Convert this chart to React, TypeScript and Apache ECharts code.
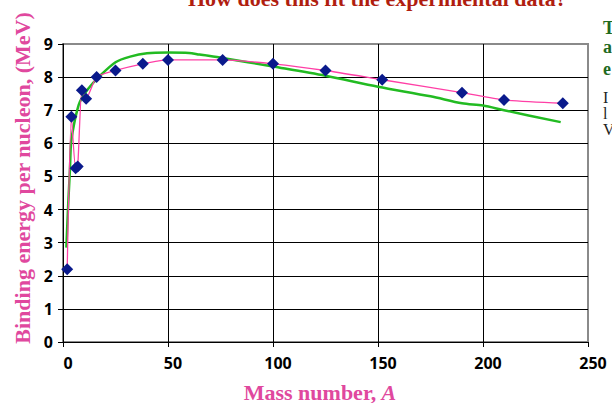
import React, { useEffect, useRef } from "react";
import * as echarts from "echarts";

const xTicks = [0, 50, 100, 150, 200, 250];
const yTicks = [0, 1, 2, 3, 4, 5, 6, 7, 8, 9];

const expA = [2, 4, 6, 7, 9, 11, 16, 25, 38, 50, 76, 100, 125, 152, 190, 210, 238];
const expBE = [2.2, 6.8, 5.25, 5.3, 7.6, 7.35, 8.0, 8.2, 8.4, 8.52, 8.52, 8.4, 8.2, 7.92, 7.53, 7.31, 7.21];

const fitA = [1.6, 2.5, 3.3, 3.8, 4.6, 6, 8, 12, 17, 25, 32, 40, 50, 60, 65, 76, 100, 125, 150, 175, 190, 200, 210, 237];
const fitBE = [2.85, 4.2, 5.2, 6.0, 6.35, 6.8, 7.25, 7.65, 8.0, 8.45, 8.62, 8.72, 8.74, 8.73, 8.68, 8.58, 8.32, 8.04, 7.71, 7.42, 7.21, 7.14, 7.0, 6.64];

const TITLE = "How does this fit the experimental data?";
const Y_NAME = "Binding energy per nucleon, (MeV)";
const X_NAME = "Mass number, ";
const X_NAME_VAR = "A";

export default function App() {
  const ref = useRef<HTMLDivElement>(null);
  useEffect(() => {
    if (!ref.current) return;
    const chart = echarts.init(ref.current, null, { renderer: "svg" });
    const pink = "#E0489E";
    const serif = "'Liberation Serif', 'Times New Roman', serif";
    const sans = "'Open Sans', 'DejaVu Sans', sans-serif";
    chart.setOption({
      animation: false,
      backgroundColor: "#ffffff",
      grid: {
        left: 63,
        right: 24,
        top: 44,
        bottom: 61,
        show: true,
        borderColor: "#8a8a8a",
        borderWidth: 2,
        backgroundColor: "transparent",
      },
      xAxis: {
        type: "value",
        min: xTicks[0],
        max: xTicks[xTicks.length - 1],
        interval: 50,
        axisLine: { show: true, onZero: false, lineStyle: { color: "#000", width: 1 } },
        axisTick: { show: true, inside: false, length: 5, lineStyle: { color: "#000" } },
        axisLabel: {
          color: "#000",
          fontFamily: sans,
          fontWeight: "bold",
          fontSize: 16,
          margin: 13,
          padding: [0, 0, 0, 10],
        },
        splitLine: { show: true, showMaxLine: false, lineStyle: { color: "#000", width: 1 } },
      },
      yAxis: {
        type: "value",
        min: yTicks[0],
        max: yTicks[yTicks.length - 1],
        interval: 1,
        axisLine: { show: true, onZero: false, lineStyle: { color: "#000", width: 1 } },
        axisTick: { show: true, inside: false, length: 5, lineStyle: { color: "#000" } },
        axisLabel: {
          color: "#000",
          fontFamily: sans,
          fontWeight: "bold",
          fontSize: 16,
          margin: 10,
        },
        splitLine: { show: true, showMaxLine: false, lineStyle: { color: "#000", width: 1 } },
      },
      series: [
        {
          name: "fit",
          type: "line",
          data: fitA.map((a, i) => [a, fitBE[i]]),
          showSymbol: false,
          symbol: "none",
          smooth: 0.3,
          lineStyle: { color: "#22BB22", width: 2.5 },
          z: 3,
        },
        {
          name: "exp line",
          type: "line",
          data: expA.map((a, i) => [a, expBE[i]]),
          showSymbol: false,
          symbol: "none",
          smooth: 0.2,
          lineStyle: { color: "#FF3FA6", width: 1.3 },
          z: 4,
        },
        {
          name: "exp",
          type: "scatter",
          data: expA.map((a, i) => [a, expBE[i]]),
          symbol: "diamond",
          symbolSize: 12,
          itemStyle: { color: "#0A1A8C", opacity: 1 },
          z: 5,
        },
      ],
      graphic: [
        {
          type: "text",
          left: 188,
          top: -13,
          style: {
            text: TITLE,
            fill: "#B01E10",
            font: `bold 22px ${serif}`,
          },
        },
        {
          type: "text",
          x: 22,
          y: 178,
          rotation: Math.PI / 2,
          style: {
            text: Y_NAME,
            fill: pink,
            font: `bold 22px ${serif}`,
            align: "center",
            verticalAlign: "middle",
          },
        },
        {
          type: "text",
          x: 320,
          y: 392,
          style: {
            text: `{a|${X_NAME}}{b|${X_NAME_VAR}}`,
            align: "center",
            verticalAlign: "middle",
            rich: {
              a: { fill: pink, font: `bold 22px ${serif}` },
              b: { fill: pink, font: `italic bold 22px ${serif}` },
            },
          },
        },
        { type: "text", x: 603, y: 28, style: { text: "T", fill: "#1F6A1F", font: `bold 18px ${serif}`, verticalAlign: "middle" } },
        { type: "text", x: 603, y: 47, style: { text: "a", fill: "#1F6A1F", font: `bold 18px ${serif}`, verticalAlign: "middle" } },
        { type: "text", x: 603, y: 69, style: { text: "e", fill: "#1F6A1F", font: `bold 18px ${serif}`, verticalAlign: "middle" } },
        { type: "text", x: 603, y: 97, style: { text: "I", fill: "#222", font: `16px ${serif}`, verticalAlign: "middle" } },
        { type: "text", x: 603, y: 113, style: { text: "l", fill: "#222", font: `16px ${serif}`, verticalAlign: "middle" } },
        { type: "text", x: 603, y: 129, style: { text: "V", fill: "#222", font: `16px ${serif}`, verticalAlign: "middle" } },
      ],
    });
    return () => chart.dispose();
  }, []);
  return <div ref={ref} style={{ width: 612, height: 403, position: "absolute", left: 0, top: 0 }} />;
}
